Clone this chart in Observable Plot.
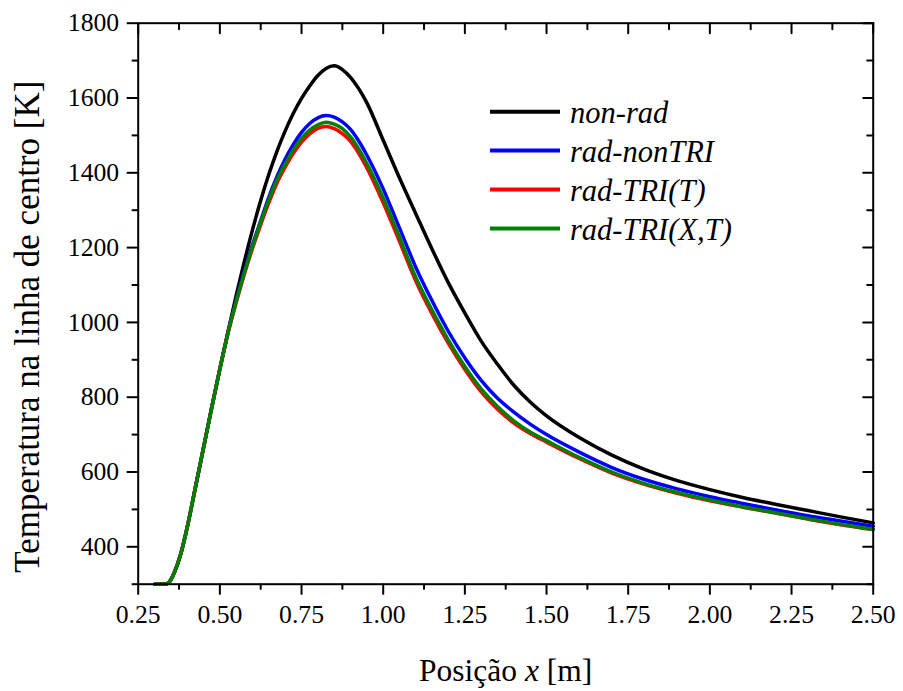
<!DOCTYPE html>
<html><head><meta charset="utf-8">
<script src="https://cdn.jsdelivr.net/npm/d3@7"></script>
<script src="https://cdn.jsdelivr.net/npm/@observablehq/plot@0.6"></script>
<style>
body{margin:0;background:#fff;}
#chart{position:relative;width:903px;height:691px;}
#chart svg text{font-family:'Liberation Serif','Times New Roman',serif;}
</style></head><body><div id="chart"></div>
<script>
// ---- data ----
const xPos = [0.30,0.32,0.34,0.35,0.36,0.38,0.40,0.425,0.45,0.475,0.50,0.525,0.55,0.575,0.60,0.625,0.65,0.675,0.70,0.725,0.75,0.775,0.80,0.825,0.85,0.875,0.90,0.925,0.95,1.00,1.05,1.10,1.15,1.20,1.25,1.30,1.35,1.40,1.45,1.50,1.60,1.70,1.80,1.90,2.00,2.10,2.20,2.30,2.40,2.50];
const nonRad =   [300,300,302,312,330,380,452,558,665,772,876,975,1072,1163,1248,1326,1396,1458,1512,1559,1599,1632,1660,1679,1686,1676,1655,1625,1587,1487,1386,1290,1195,1105,1025,950,888,832,787,750,692,645,607,577,553,532,514,497,480,464];
const radNonTRI =[300,300,302,312,330,380,452,558,665,772,876,974,1060,1138,1208,1272,1335,1390,1437,1476,1508,1532,1547,1553,1549,1536,1516,1485,1447,1357,1252,1147,1057,975,905,845,797,760,728,700,653,612,580,555,534,516,499,483,469,455];
const radTRIT =  [300,300,302,312,330,380,452,558,665,772,875,971,1053,1129,1198,1261,1320,1373,1415,1452,1482,1504,1519,1524,1518,1505,1484,1452,1413,1320,1216,1110,1022,943,874,814,768,731,703,680,636,597,567,543,523,506,490,474,459,446];
const radTRIXT = [300,300,302,312,330,380,452,558,665,772,875,972,1056,1133,1203,1268,1328,1382,1424,1462,1492,1514,1528,1535,1530,1518,1496,1464,1425,1333,1228,1120,1032,952,882,822,775,737,707,684,639,600,569,545,525,507,491,475,460,446];
const seriesNames = ["non-rad","rad-nonTRI","rad-TRI(T)","rad-TRI(X,T)"];
const seriesColors = ["#000000","#0000ff","#ff0000","#008000"];
const seriesValues = [nonRad, radNonTRI, radTRIT, radTRIXT];
const xTicks = [0.25,0.50,0.75,1.00,1.25,1.50,1.75,2.00,2.25,2.50];
const xMinor = [0.375,0.625,0.875,1.125,1.375,1.625,1.875,2.125,2.375];
const yTicks = [400,600,800,1000,1200,1400,1600,1800];
const yMinor = [300,500,700,900,1100,1300,1500,1700];
const xLabel = "Posição x [m]";
const yLabel = "Temperatura na linha de centro [K]";

// ---- build ----
const serif = "'Liberation Serif','Times New Roman',serif";
const tickShape = {draw(ctx, l){ ctx.moveTo(0,0); ctx.lineTo(0,-l); }};
const lineMarks = seriesValues.map((vals,i) => Plot.line(xPos.map((x,j)=>({x, y: vals[j]})), {x:"x", y:"y", stroke: seriesColors[i], strokeWidth: 3.5, curve: "monotone-x"}));

const plot = Plot.plot({
  width: 903, height: 691,
  marginLeft: 137.7, marginRight: 30.3, marginTop: 22.7, marginBottom: 107.3,
  style: {fontFamily: serif, fontSize: "25.7px", background: "#fff", color: "#000"},
  x: {domain: [0.25, 2.5]},
  y: {domain: [300, 1800]},
  marks: [
    ...lineMarks,
    Plot.frame({strokeWidth: 2}),
    Plot.axisX({ticks: xTicks, tickSize: 11, tickPadding: 10, tickFormat: d => d.toFixed(2), strokeWidth: 2, label: null, fontSize: 25.7}),
    Plot.axisX({ticks: xMinor, tickSize: 6, tickFormat: () => "", strokeWidth: 2, label: null}),
    Plot.axisY({ticks: yTicks, tickSize: 11, tickPadding: 8, tickFormat: d => String(d), strokeWidth: 2, label: null, fontSize: 25.7}),
    Plot.axisY({ticks: yMinor, tickSize: 6, tickFormat: () => "", strokeWidth: 2, label: null}),
    Plot.vector(xTicks, {x: d => d, frameAnchor: "top", length: 10, rotate: 180, anchor: "start", shape: tickShape, stroke: "#000", strokeWidth: 2}),
    Plot.vector(xMinor, {x: d => d, frameAnchor: "top", length: 6, rotate: 180, anchor: "start", shape: tickShape, stroke: "#000", strokeWidth: 2}),
    Plot.vector(yTicks, {y: d => d, frameAnchor: "right", length: 10, rotate: 270, anchor: "start", shape: tickShape, stroke: "#000", strokeWidth: 2}),
    Plot.vector(yMinor, {y: d => d, frameAnchor: "right", length: 6, rotate: 270, anchor: "start", shape: tickShape, stroke: "#000", strokeWidth: 2}),
    Plot.text([xLabel], {frameAnchor: "bottom", dy: 96.3, lineAnchor: "bottom", textAnchor: "middle", fontSize: 31.5, fill: "#000"}),
    Plot.text([yLabel], {frameAnchor: "left", dx: -110, dy: 23, rotate: -90, lineAnchor: "middle", textAnchor: "middle", fontSize: 35, fill: "#000"})
  ]
});
document.getElementById("chart").appendChild(plot);

const svg = d3.select(plot);
svg.selectAll("g[aria-label$='tick label']").attr("font-size", 25.7).attr("font-family", serif);

// italic x in x label
svg.selectAll("text").filter(function(){ return this.textContent === xLabel; }).each(function(){
  const t = d3.select(this); t.text(null);
  t.append("tspan").text("Posição ");
  t.append("tspan").attr("font-style","italic").text("x");
  t.append("tspan").text(" [m]");
});

// legend inside the frame
const lg = svg.append("g").attr("font-family", serif).attr("font-style","italic").attr("font-size", 30.5).attr("text-anchor","start");
seriesNames.forEach((name, i) => {
  const y = 111.7 + i * 38.9;
  lg.append("line").attr("x1", 490).attr("x2", 560).attr("y1", y).attr("y2", y)
    .attr("stroke", seriesColors[i]).attr("stroke-width", 4);
  lg.append("text").attr("x", 570).attr("y", y + 11.7).attr("fill", "#000").attr("text-anchor","start").text(name);
});
</script></body></html>
